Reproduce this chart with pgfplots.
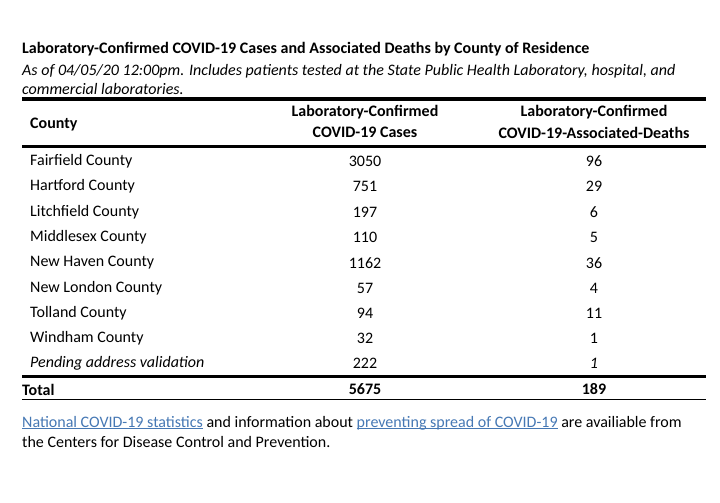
\documentclass[border=0pt]{standalone}
\usepackage{pgfplots}
\usepackage{pgfplotstable}
\pgfplotsset{compat=1.18}
\usepackage{fontspec}
\setmainfont{Carlito}
\definecolor{linkblue}{RGB}{70,120,180}
\newcommand{\fs}{\fontsize{16bp}{19bp}\selectfont}
\newcommand{\lnk}[1]{\textcolor{linkblue}{\underline{\smash{#1}}}}
\pgfplotstableread[col sep=comma]{
y,county,cases,deaths
161.5,Fairfield County,3050,96
186.5,Hartford County,751,29
212,Litchfield County,197,6
237.5,Middlesex County,110,5
263,New Haven County,1162,36
288.5,New London County,57,4
313.5,Tolland County,94,11
338.5,Windham County,32,1
}\rows
\pgfplotstableread[col sep=comma]{
y,county,cases,deaths
363.5,Pending address validation,222,1
}\pending
\pgfplotstableread[col sep=comma]{
y,county,cases,deaths
389.5,Total,5675,189
}\total
\begin{document}
\begin{tikzpicture}
\begin{axis}[
  scale only axis, width=720bp, height=502bp,
  xmin=0, xmax=720, ymin=0, ymax=502, y dir=reverse,
  axis lines=none, ticks=none, clip=false,
  every node near coord/.append style={font=\fs, inner sep=0pt, text=black},
]
% county names
\addplot[draw=none, mark=none, nodes near coords, point meta=explicit symbolic,
  nodes near coords align={anchor=west}] table[x expr=30, y=y, meta=county] {\rows};
\addplot[draw=none, mark=none, nodes near coords, point meta=explicit symbolic,
  nodes near coords align={anchor=center}] table[x expr=365, y=y, meta=cases] {\rows};
\addplot[draw=none, mark=none, nodes near coords, point meta=explicit symbolic,
  nodes near coords align={anchor=center}] table[x expr=594, y=y, meta=deaths] {\rows};
% pending
\addplot[draw=none, mark=none, nodes near coords, point meta=explicit symbolic,
  nodes near coords align={anchor=west}, every node near coord/.append style={font=\fs\itshape}] table[x expr=30, y=y, meta=county] {\pending};
\addplot[draw=none, mark=none, nodes near coords, point meta=explicit symbolic,
  nodes near coords align={anchor=center}] table[x expr=365, y=y, meta=cases] {\pending};
\addplot[draw=none, mark=none, nodes near coords, point meta=explicit symbolic,
  nodes near coords align={anchor=center}, every node near coord/.append style={font=\fs\itshape}] table[x expr=594, y=y, meta=deaths] {\pending};
% total
\addplot[draw=none, mark=none, nodes near coords, point meta=explicit symbolic,
  nodes near coords align={anchor=west}, every node near coord/.append style={font=\fs\bfseries}] table[x expr=22, y=y, meta=county] {\total};
\addplot[draw=none, mark=none, nodes near coords, point meta=explicit symbolic,
  nodes near coords align={anchor=center}, every node near coord/.append style={font=\fs\bfseries}] table[x expr=365, y=y, meta=cases] {\total};
\addplot[draw=none, mark=none, nodes near coords, point meta=explicit symbolic,
  nodes near coords align={anchor=center}, every node near coord/.append style={font=\fs\bfseries}] table[x expr=594, y=y, meta=deaths] {\total};

% title and subtitle
\node[anchor=west, inner sep=0pt, font=\fs\bfseries] at (axis cs:22,49.5) {Laboratory-Confirmed COVID-19 Cases and Associated Deaths by County of Residence};
\node[anchor=west, inner sep=0pt, font=\fs\itshape] at (axis cs:22,71) {As of 04/05/20 12:00pm. Includes patients tested at the State Public Health Laboratory, hospital, and};
\node[anchor=west, inner sep=0pt, font=\fs\itshape] at (axis cs:22,89) {commercial laboratories.};
% rules
\draw[line width=3bp] (axis cs:22,99) -- (axis cs:706,99);
\draw[line width=3bp] (axis cs:22,146) -- (axis cs:706,146);
\draw[line width=3bp] (axis cs:22,376) -- (axis cs:706,376);
\draw[line width=1.2bp] (axis cs:22,399.5) -- (axis cs:706,399.5);
% headers
\node[anchor=west, inner sep=0pt, font=\fs\bfseries] at (axis cs:30,124.5) {County};
\node[inner sep=0pt, font=\fs\bfseries] at (axis cs:365,112.5) {Laboratory-Confirmed};
\node[inner sep=0pt, font=\fs\bfseries] at (axis cs:365,132.5) {COVID-19 Cases};
\node[inner sep=0pt, font=\fs\bfseries] at (axis cs:594,112.5) {Laboratory-Confirmed};
\node[inner sep=0pt, font=\fs\bfseries] at (axis cs:594,132.5) {COVID-19-Associated-Deaths};
% footer
\node[anchor=west, inner sep=0pt, font=\fs] at (axis cs:22,422.5) {\lnk{National COVID-19 statistics} and information about \lnk{preventing spread of COVID-19} are availiable from};
\node[anchor=west, inner sep=0pt, font=\fs] at (axis cs:22,441.5) {the Centers for Disease Control and Prevention.};
\end{axis}
\path (current axis.south west) rectangle (current axis.north east);
\end{tikzpicture}
\end{document}
